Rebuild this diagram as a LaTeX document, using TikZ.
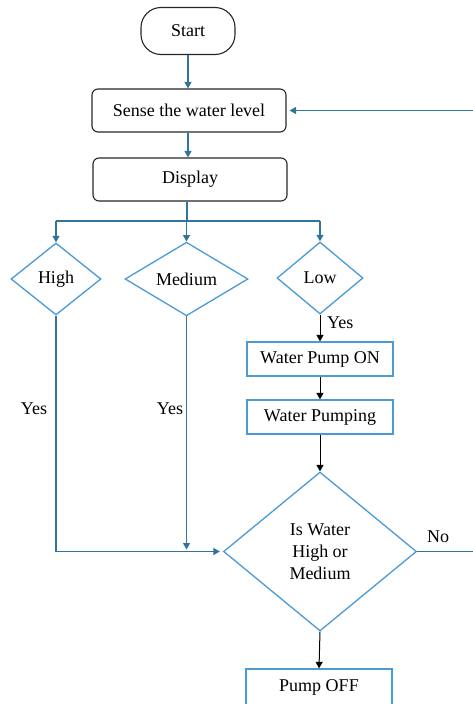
\documentclass[tikz,border=0pt]{standalone}
\usepackage{fontspec}
\setmainfont{Liberation Serif}
\newfontfamily\timesfont{Liberation Serif}
\usetikzlibrary{shapes.geometric,arrows.meta}
\definecolor{tealA}{HTML}{31759A}
\definecolor{blueA}{HTML}{4A9AD6}
\begin{document}
\begin{tikzpicture}[x=1pt,y=-1pt,
 every node/.style={font=\timesfont\fontsize{18}{22}\selectfont, inner sep=0pt},
 rbox/.style={draw=black!85, line width=1.1pt, rounded corners=6pt, minimum width=194pt, minimum height=43pt},
 bbox/.style={draw=blueA, line width=1.3pt, minimum width=146pt, minimum height=34pt},
 dec/.style={diamond, draw=blueA, line width=1.3pt, align=center},
 tarr/.style={tealA, line width=1.2pt, -{Triangle[length=6.5pt,width=7pt]}},
 karr/.style={black, line width=1pt, -{Triangle[length=6.5pt,width=7pt]}},
 tline/.style={tealA, line width=1.2pt}
]
\useasboundingbox (0,0) rectangle (472,704);
\node[draw=black!85, line width=1.1pt, rounded corners=20pt, minimum width=94pt, minimum height=47pt] (start) at (188,31) {Start};
\node[rbox] (sense) at (189,110.5) {Sense the water level};
\node[rbox] (disp) at (190,179.5) {Display};
\node[dec, minimum width=90pt, minimum height=72pt] (high) at (56,279) {High};
\node[dec, minimum width=123pt, minimum height=72pt] (med) at (186.5,279) {Medium};
\node[dec, minimum width=86pt, minimum height=72pt] (low) at (320,278) {Low};
\node[bbox] (pon) at (320,359) {Water Pump ON};
\node[bbox] (ping) at (320,417) {Water Pumping};
\node[dec, minimum width=193pt, minimum height=159pt] (chk) at (320,551.5) {Is Water\\High or\\Medium};
\node[bbox, minimum height=36pt] (off) at (319,687) {Pump OFF};
% top connectors
\draw[tarr] (start.south) -- (start.south |- sense.north);
\draw[tarr] (sense.south -| start.south) -- (start.south |- disp.north);
\coordinate (br) at (187,221);
\draw[tline] (disp.south -| br) -- (br);
\draw[tline] (high.north |- br) -- (low.north |- br);
\draw[tarr] (high.north |- br) -- (high.north);
\draw[tarr] (med.north |- br) -- (med.north);
\draw[tarr] (low.north |- br) -- (low.north);
% low branch
\draw[karr] (low.south) -- (pon.north);
\node[anchor=west] (yl) at (327,323) {Yes};
\draw[karr] (pon.south) -- (ping.north);
\draw[karr] (ping.south) -- (chk.north);
\draw[karr] (chk.south) -- (off.north);
% high / medium
\draw[tarr, shorten >=3pt] (high.south) |- (chk.west);
\coordinate (mj) at (med.south |- chk.west);
\draw[tarr, shorten >=2pt] (med.south) -- (mj);
\node (yh) at (34,409) {Yes};
\node (ym) at (170,409) {Yes};
% no loop
\coordinate (loop) at (495,551.5);
\draw[tarr, shorten >=3pt] (chk.east) -- (loop) |- (sense.east);
\node (no) at (438,537) {No};
\end{tikzpicture}
\end{document}
